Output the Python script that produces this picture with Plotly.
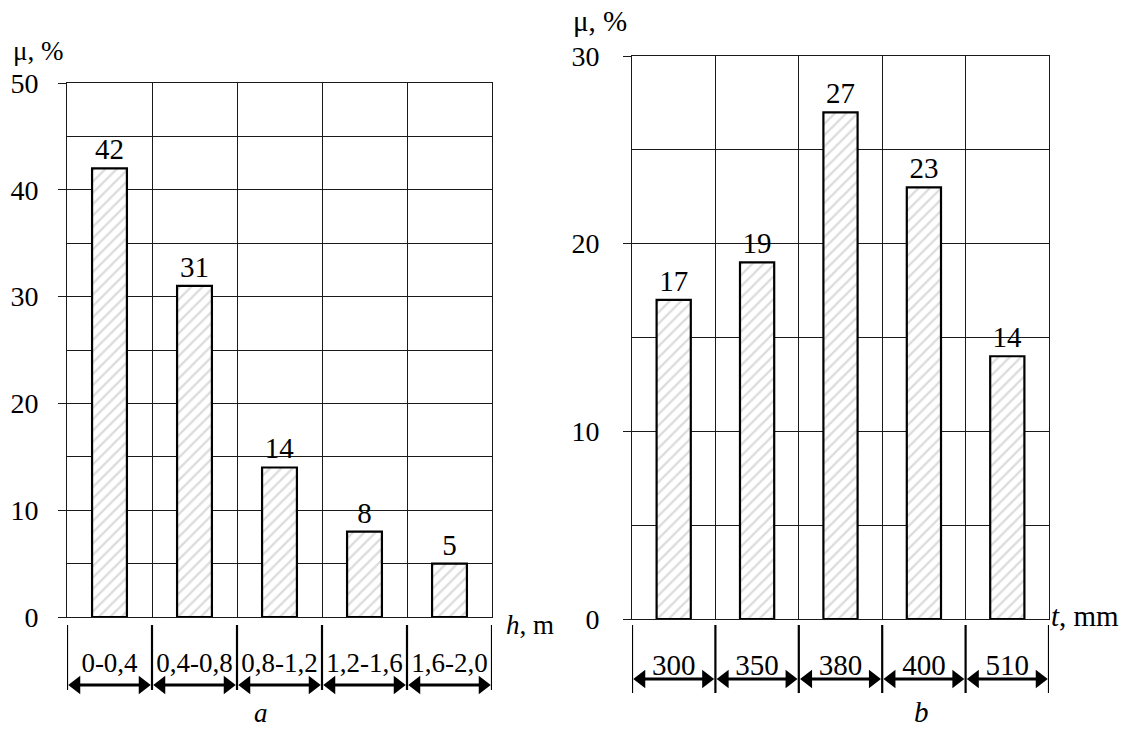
import plotly.graph_objects as go

W, H = 1127, 732
FONT = "Liberation Serif, Times New Roman, serif"

# ---- data ----
h_labels = ["0-0,4", "0,4-0,8", "0,8-1,2", "1,2-1,6", "1,6-2,0"]
h_values = [42, 31, 14, 8, 5]
h_yticks = [0, 10, 20, 30, 40, 50]

t_labels = ["300", "350", "380", "400", "510"]
t_values = [17, 19, 27, 23, 14]
t_yticks = [0, 10, 20, 30]


def fx(p):
    return p / W


def fy(p):
    return 1 - p / H


panels = [
    dict(labels=h_labels, values=h_values, yticks=h_yticks,
         x0=67, x1=492, ytop=83, ybot=617, fs=28, vfs=29, lfs=27,
         line_top=625, line_bot=690, arrow_y=685, label_y=665,
         standoff=14, xlab="<i>h</i>, m", xlab_pos=(530, 625),
         ylab_pos=(38, 51), letter="<i>a</i>", letter_pos=(261, 730), lab_fs=27),
    dict(labels=t_labels, values=t_values, yticks=t_yticks,
         x0=632, x1=1049, ytop=56, ybot=619, fs=28, vfs=29, lfs=29,
         line_top=625, line_bot=693, arrow_y=679, label_y=668,
         standoff=18, xlab="<i>t</i>, mm", xlab_pos=(1085, 616),
         ylab_pos=(600, 21), letter="<i>b</i>", letter_pos=(921, 730), lab_fs=29),
]

GRID = "#1a1a1a"
fig = go.Figure()
layout = dict(width=W, height=H, margin=dict(l=0, r=0, t=0, b=0, pad=0, autoexpand=False),
              autosize=False,
              paper_bgcolor="white", plot_bgcolor="white", showlegend=False,
              font=dict(family=FONT, color="black"))
annotations = []

for k, p in enumerate(panels):
    n = len(p["labels"])
    idx = list(range(n))
    bounds = [i - 0.5 for i in range(n + 1)]
    ax_main = 2 * k + 1
    ax_strip = 2 * k + 2
    xm = "x" if ax_main == 1 else f"x{ax_main}"
    ym = "y" if ax_main == 1 else f"y{ax_main}"
    xs, ys = f"x{ax_strip}", f"y{ax_strip}"
    ymax = p["yticks"][-1]

    fig.add_trace(go.Bar(
        x=idx, y=p["values"], width=0.41, xaxis=xm, yaxis=ym,
        marker=dict(color="white", line=dict(color="black", width=2.2),
                    pattern=dict(shape="/", fgcolor="#b8b8b8", bgcolor="white",
                                 size=8, solidity=0.28)),
        text=[str(v) for v in p["values"]], textposition="outside",
        textfont=dict(size=p["vfs"], family=FONT, color="black"),
        cliponaxis=False, hoverinfo="skip"))

    # strip below axis: extension lines
    vx, vy = [], []
    top = -(p["line_top"] - p["ybot"])
    bot = -(p["line_bot"] - p["ybot"])
    for b in bounds:
        vx += [b, b, None]
        vy += [top, bot, None]
    fig.add_trace(go.Scatter(x=vx, y=vy, mode="lines", xaxis=xs, yaxis=ys,
                             line=dict(color="black", width=2.2), cliponaxis=False,
                             hoverinfo="skip"))
    # dimension arrows
    unit = (p["x1"] - p["x0"]) / n
    msize = 16
    off = (msize / 2) * 1.155 / unit
    ay = -(p["arrow_y"] - p["ybot"])
    lx, ly = [], []
    for i in idx:
        lx += [i - 0.5 + off, i + 0.5 - off, None]
        ly += [ay, ay, None]
    fig.add_trace(go.Scatter(x=lx, y=ly, mode="lines", xaxis=xs, yaxis=ys,
                             line=dict(color="black", width=3), cliponaxis=False,
                             hoverinfo="skip"))
    fig.add_trace(go.Scatter(x=[i - 0.5 + off for i in idx], y=[ay] * n, mode="markers",
                             xaxis=xs, yaxis=ys, cliponaxis=False, hoverinfo="skip",
                             marker=dict(symbol="triangle-left", size=msize, color="black",
                                         line=dict(width=0))))
    fig.add_trace(go.Scatter(x=[i + 0.5 - off for i in idx], y=[ay] * n, mode="markers",
                             xaxis=xs, yaxis=ys, cliponaxis=False, hoverinfo="skip",
                             marker=dict(symbol="triangle-right", size=msize, color="black",
                                         line=dict(width=0))))
    fig.add_trace(go.Scatter(x=idx, y=[-(p["label_y"] - p["ybot"])] * n, mode="text",
                             text=p["labels"], textposition="middle center",
                             textfont=dict(size=p["lfs"], family=FONT, color="black"),
                             xaxis=xs, yaxis=ys, cliponaxis=False, hoverinfo="skip"))

    xdom = [fx(p["x0"]), fx(p["x1"])]
    layout["xaxis" if ax_main == 1 else f"xaxis{ax_main}"] = dict(
        domain=xdom, range=[-0.5, n - 0.5], anchor=ym, tickvals=bounds,
        showticklabels=False, ticks="", showgrid=True, gridcolor=GRID, gridwidth=1,
        zeroline=False, showline=True, mirror=True, linecolor=GRID, linewidth=1,
        fixedrange=True, automargin=False)
    layout["yaxis" if ax_main == 1 else f"yaxis{ax_main}"] = dict(
        domain=[fy(p["ybot"]), fy(p["ytop"])], range=[0, ymax], anchor=xm,
        tickvals=p["yticks"], ticks="outside", ticklen=8, tickcolor=GRID, tickwidth=1,
        ticklabelstandoff=p["standoff"],
        tickfont=dict(size=p["fs"], family=FONT, color="black"),
        showgrid=True, gridcolor=GRID, gridwidth=1,
        minor=dict(dtick=5, showgrid=True, gridcolor=GRID, gridwidth=1, ticks=""),
        zeroline=False, showline=True, mirror=True, linecolor=GRID, linewidth=1,
        fixedrange=True, automargin=False)
    layout[f"xaxis{ax_strip}"] = dict(domain=xdom, range=[-0.5, n - 0.5], anchor=ys,
                                      visible=False, fixedrange=True, automargin=False)
    layout[f"yaxis{ax_strip}"] = dict(domain=[fy(705), fy(p["ybot"])],
                                      range=[-(705 - p["ybot"]), 0], anchor=xs,
                                      visible=False, fixedrange=True, automargin=False)

    for txt, pos, ya in [(p["xlab"], p["xlab_pos"], "middle"),
                         ("μ, %", p["ylab_pos"], "middle"),
                         (p["letter"], p["letter_pos"], "bottom")]:
        annotations.append(dict(text=txt, x=fx(pos[0]), y=fy(pos[1]), xref="paper",
                                yref="paper", showarrow=False, xanchor="center",
                                yanchor=ya,
                                font=dict(size=p["lab_fs"], family=FONT, color="black")))

layout["annotations"] = annotations
fig.update_layout(**layout)
fig.write_html("out.html", config={"responsive": False, "displayModeBar": False},
               post_script="document.body.style.margin='0';")
